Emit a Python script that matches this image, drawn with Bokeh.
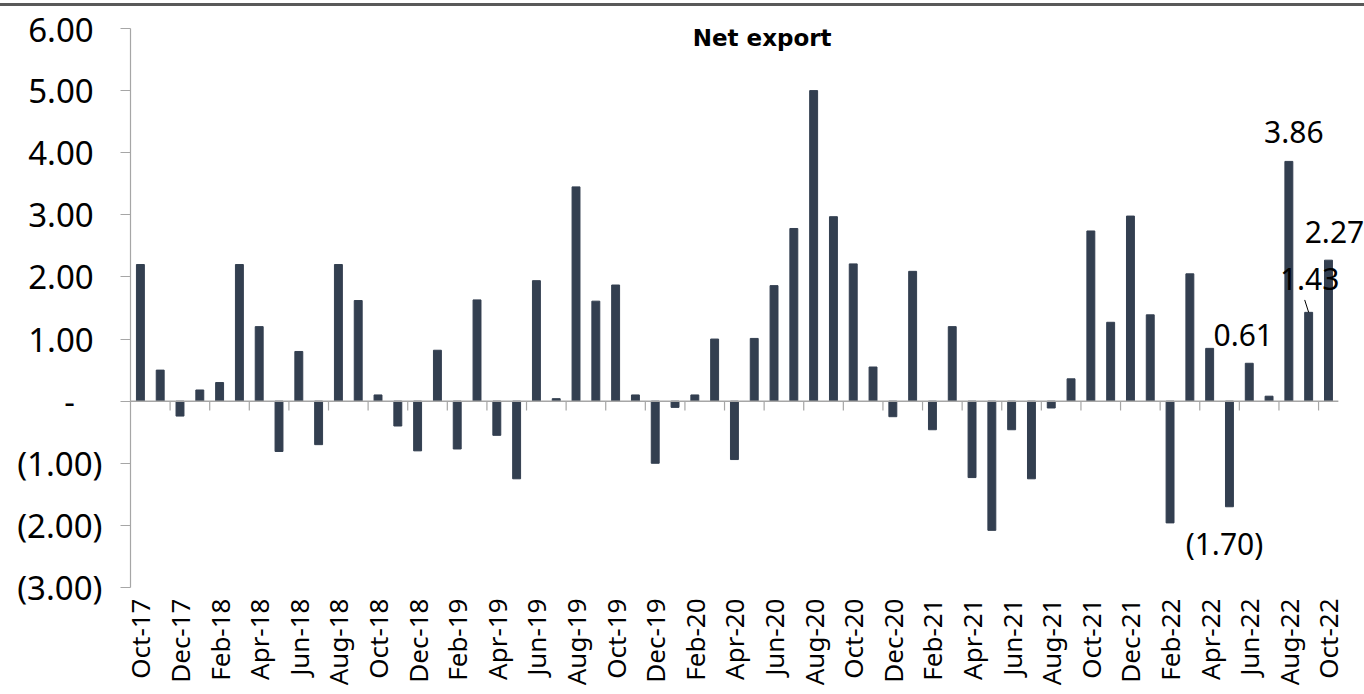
import numpy as np
from bokeh.plotting import figure
from bokeh.models import FixedTicker, Label, Range1d, Div
from bokeh.layouts import column
from bokeh.embed import file_html
from bokeh.resources import INLINE

# ---------------- data ----------------
months = [
    "Oct-17", "Nov-17", "Dec-17",
    "Jan-18", "Feb-18", "Mar-18", "Apr-18", "May-18", "Jun-18",
    "Jul-18", "Aug-18", "Sep-18", "Oct-18", "Nov-18", "Dec-18",
    "Jan-19", "Feb-19", "Mar-19", "Apr-19", "May-19", "Jun-19",
    "Jul-19", "Aug-19", "Sep-19", "Oct-19", "Nov-19", "Dec-19",
    "Jan-20", "Feb-20", "Mar-20", "Apr-20", "May-20", "Jun-20",
    "Jul-20", "Aug-20", "Sep-20", "Oct-20", "Nov-20", "Dec-20",
    "Jan-21", "Feb-21", "Mar-21", "Apr-21", "May-21", "Jun-21",
    "Jul-21", "Aug-21", "Sep-21", "Oct-21", "Nov-21", "Dec-21",
    "Jan-22", "Feb-22", "Mar-22", "Apr-22", "May-22", "Jun-22",
    "Jul-22", "Aug-22", "Sep-22", "Oct-22",
]
net_export = [
    2.20, 0.50, -0.24,
    0.18, 0.30, 2.20, 1.20, -0.81, 0.80,
    -0.70, 2.20, 1.62, 0.10, -0.40, -0.80,
    0.82, -0.77, 1.63, -0.55, -1.25, 1.94,
    0.04, 3.45, 1.61, 1.87, 0.10, -1.00,
    -0.10, 0.10, 1.00, -0.94, 1.01, 1.86,
    2.78, 5.00, 2.97, 2.21, 0.55, -0.25,
    2.09, -0.46, 1.20, -1.23, -2.08, -0.46,
    -1.25, -0.11, 0.36, 2.74, 1.27, 2.98,
    1.39, -1.96, 2.05, 0.85, -1.70, 0.61,
    0.08, 3.86, 1.43, 2.27,
]
y_ticks = [-3, -2, -1, 0, 1, 2, 3, 4, 5, 6]
y_tick_labels = ["(3.00)", "(2.00)", "(1.00)", "-\u2007\u2008",
                 "1.00\u2008", "2.00\u2008", "3.00\u2008", "4.00\u2008",
                 "5.00\u2008", "6.00\u2008"]
labelled_months = ["Jun-22", "Aug-22", "Sep-22", "Oct-22", "May-22"]
label_texts = ["0.61", "3.86", "1.43", "2.27", "(1.70)"]
title_text = "Net export"

# ---------------- styles ----------------
BAR = "#333f50"
AXIS = "#a6a6a6"
FONT = "Noto Sans"
label_offsets = {"Jun-22": (-6, 28), "Aug-22": (5, 29), "Sep-22": (1, 33),
                 "Oct-22": (6, 28), "May-22": (-5, -37)}
RIGHT_PAD = 1.32  # extra room right of last bar so labels are not clipped

idx = np.arange(len(months))
x_lo, x_hi = -0.5, len(months) - 0.5

p = figure(width=1364, height=688, output_backend="svg", toolbar_location=None,
           x_range=Range1d(x_lo, x_hi + RIGHT_PAD), y_range=Range1d(-3, 6),
           min_border_left=130, min_border_right=0, min_border_top=22,
           min_border_bottom=107, margin=0)
p.outline_line_color = None
p.xgrid.visible = False
p.ygrid.visible = False
p.background_fill_color = "white"
p.border_fill_color = "white"

p.vbar(x=idx, top=net_export, bottom=0, width=0.4, fill_color=BAR, line_color=BAR)

# zero line with category-boundary ticks
p.segment(x0=[x_lo], x1=[x_hi], y0=[0], y1=[0], line_color=AXIS, line_width=1.5)
bounds = idx[1:-1:2] + 0.5
p.segment(x0=bounds, x1=bounds, y0=np.zeros(len(bounds)), y1=np.full(len(bounds), -0.15),
          line_color=AXIS, line_width=1.2)

# y axis
ya = p.yaxis[0]
ya.ticker = FixedTicker(ticks=y_ticks, minor_ticks=[])
ya.major_label_overrides = {t: l for t, l in zip(y_ticks, y_tick_labels)}
ya.axis_line_color = AXIS
ya.axis_line_width = 1.2
ya.major_tick_line_color = AXIS
ya.major_tick_out = 10
ya.major_tick_in = 0
ya.minor_tick_line_color = None
ya.major_label_text_font = FONT
ya.major_label_text_font_size = "33px"
ya.major_label_text_color = "black"
ya.major_label_standoff = 18

# x axis (labels only)
xa = p.xaxis[0]
xa.ticker = FixedTicker(ticks=list(idx[::2]), minor_ticks=[])
xa.major_label_overrides = {int(i): months[i] for i in idx[::2]}
xa.major_label_orientation = np.pi / 2
xa.axis_line_color = None
xa.major_tick_line_color = None
xa.minor_tick_line_color = None
xa.major_tick_out = 0
xa.major_tick_in = 0
xa.major_label_standoff = 11
xa.major_label_text_font = FONT
xa.major_label_text_font_size = "26px"
xa.major_label_text_color = "black"

# data labels
for m, t in zip(labelled_months, label_texts):
    i = months.index(m)
    v = net_export[i]
    dx, dy = label_offsets[m]
    p.add_layout(Label(x=i, y=v, text=t, x_offset=dx, y_offset=dy,
                       text_align="center", text_baseline="middle",
                       text_font=FONT, text_font_size="30px",
                       text_color="black"))

# leader line for Sep-22 label
i_sep = months.index("Sep-22")
p.segment(x0=[i_sep - 0.2], y0=[net_export[i_sep] + 0.2], x1=[i_sep], y1=[net_export[i_sep]],
          line_color="black", line_width=1)

# title inside plot
p.add_layout(Label(x=31.4, y=5.85, text=title_text, text_align="center",
                   text_baseline="middle", text_font="DejaVu Sans",
                   text_font_style="bold", text_font_size="23px", text_color="black"))

top_rule = Div(width=1364, height=3, margin=(3, 0, 0, 0), text="",
               styles={"background-color": "#595959"})
layout = column(top_rule, p, spacing=0, margin=0)

open("out.html", "w").write(file_html(layout, INLINE))
